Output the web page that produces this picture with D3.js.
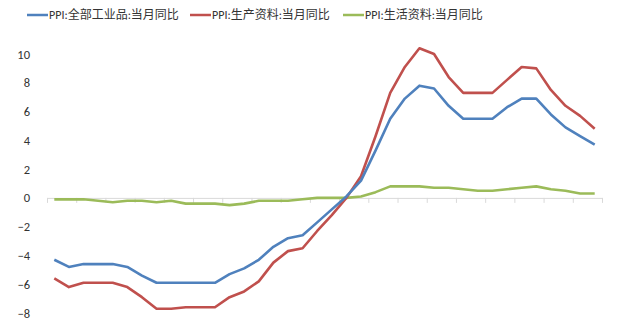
<!DOCTYPE html>
<html>
<head>
<meta charset="utf-8">
<script src="https://cdn.jsdelivr.net/npm/d3@7"></script>
<style>
  body { margin: 0; background: #fff; }
  svg { display: block; font-family: Calibri, "Noto Sans CJK SC", sans-serif; }
</style>
</head>
<body>
<svg id="chart" width="640" height="320"></svg>
<script>
// months 2015-01 .. 2018-02
const months = d3.timeMonths(new Date(2015, 0, 1), new Date(2018, 2, 1)).map(d3.timeFormat("%Y-%m"))
const allGoods = [-4.3,-4.8,-4.6,-4.6,-4.6,-4.8,-5.4,-5.9,-5.9,-5.9,-5.9,-5.9,
                  -5.3,-4.9,-4.3,-3.4,-2.8,-2.6,-1.7,-0.8,0.1,1.2,3.3,5.5,
                  6.9,7.8,7.6,6.4,5.5,5.5,5.5,6.3,6.9,6.9,5.8,4.9,
                  4.3,3.7]
const producerGoods = [-5.6,-6.2,-5.9,-5.9,-5.9,-6.2,-6.9,-7.7,-7.7,-7.6,-7.6,-7.6,
                       -6.9,-6.5,-5.8,-4.5,-3.7,-3.5,-2.3,-1.2,0.0,1.5,4.3,7.3,
                       9.1,10.4,10.0,8.4,7.3,7.3,7.3,8.2,9.1,9.0,7.5,6.4,
                       5.7,4.8]
const consumerGoods = [-0.1,-0.1,-0.1,-0.2,-0.3,-0.2,-0.2,-0.3,-0.2,-0.4,-0.4,-0.4,
                       -0.5,-0.4,-0.2,-0.2,-0.2,-0.1,0.0,0.0,0.0,0.1,0.4,0.8,
                       0.8,0.8,0.7,0.7,0.6,0.5,0.5,0.6,0.7,0.8,0.6,0.5,
                       0.3,0.3]
const seriesNames = ["PPI:全部工业品:当月同比", "PPI:生产资料:当月同比", "PPI:生活资料:当月同比"]
const colors = ["#4f81bd", "#c0504d", "#9bbb59"]
const yTicks = [-8, -6, -4, -2, 0, 2, 4, 6, 8, 10]

let svg = d3.select("#chart")

// x: category index, points sit in the middle of each slot
let x = d3.scaleLinear().domain([0, months.length]).range([47, 602])
let y = d3.scaleLinear().domain([-8, 10]).range([313, 54])

// y labels
let yAxis = svg.append("g")
    .attr("transform", "translate(33,0)")
    .call(d3.axisLeft(y).tickValues(yTicks).tickSize(0).tickPadding(3))
yAxis.select(".domain").remove()
yAxis.selectAll("text").attr("font-size", 12.5).attr("fill", "#333")
    .attr("font-family", "Calibri, 'Noto Sans CJK SC', sans-serif")

// x axis on zero line, no labels
let xAxis = svg.append("g")
    .attr("transform", "translate(0," + y(0) + ")")
    .call(d3.axisBottom(x).tickValues(d3.range(0, months.length + 1, 2)).tickFormat("").tickSizeInner(5).tickSizeOuter(0))
xAxis.select(".domain").attr("stroke", "#d9d9d9")
xAxis.selectAll(".tick line").attr("stroke", "#d9d9d9")

let line = d3.line()
    .x((d, i) => x(i + 0.5))
    .y(d => y(d))

let data = [allGoods, producerGoods, consumerGoods]
// green first, then red, blue on top
let order = [2, 1, 0]
for (let k of order) {
    svg.append("path")
        .datum(data[k])
        .attr("fill", "none")
        .attr("stroke", colors[k])
        .attr("stroke-width", 2.6)
        .attr("stroke-linejoin", "round")
        .attr("d", line)
}

// legend
let legendX = [27, 190, 343]
let legend = svg.append("g")
for (let k = 0; k < 3; k++) {
    legend.append("line")
        .attr("x1", legendX[k]).attr("x2", legendX[k] + 21)
        .attr("y1", 15).attr("y2", 15)
        .attr("stroke", colors[k]).attr("stroke-width", 2.5)
    legend.append("text")
        .attr("x", legendX[k] + 22).attr("y", 15)
        .attr("dy", "0.35em")
        .attr("font-size", 12)
        .attr("fill", "#333")
        .text(seriesNames[k])
}
</script>
</body>
</html>
